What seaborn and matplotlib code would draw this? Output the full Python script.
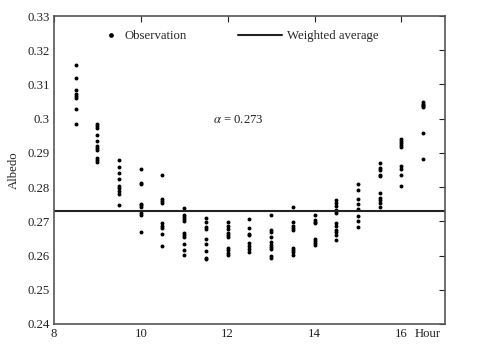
import numpy as np
import pandas as pd
import matplotlib
matplotlib.use("Agg")
import matplotlib.pyplot as plt
from matplotlib.lines import Line2D
from matplotlib.ticker import FuncFormatter
import seaborn as sns

# Observed albedo at each half-hour
hours = [8.5, 9.0, 9.5, 10.0, 10.5, 11.0, 11.5, 12.0, 12.5, 13.0,
         13.5, 14.0, 14.5, 15.0, 15.5, 16.0, 16.5]
albedo_by_hour = [
    [0.3156, 0.3119, 0.3084, 0.3072, 0.3066, 0.3061, 0.3028, 0.2984],
    [0.2984, 0.2979, 0.2974, 0.2952, 0.2935, 0.2919, 0.2913, 0.2909, 0.2885, 0.2879, 0.2872],
    [0.2878, 0.2859, 0.2842, 0.2823, 0.2802, 0.2796, 0.2789, 0.2780, 0.2748],
    [0.2854, 0.2812, 0.2809, 0.2752, 0.2747, 0.2743, 0.2724, 0.2719, 0.2670],
    [0.2834, 0.2764, 0.2759, 0.2754, 0.2694, 0.2687, 0.2681, 0.2664, 0.2629],
    [0.2739, 0.2719, 0.2712, 0.2706, 0.2702, 0.2667, 0.2661, 0.2653, 0.2635, 0.2616, 0.2602],
    [0.2710, 0.2697, 0.2684, 0.2678, 0.2649, 0.2633, 0.2614, 0.2592, 0.2589],
    [0.2697, 0.2686, 0.2678, 0.2666, 0.2659, 0.2653, 0.2623, 0.2615, 0.2608, 0.2602],
    [0.2706, 0.2681, 0.2664, 0.2661, 0.2636, 0.2627, 0.2620, 0.2609],
    [0.2718, 0.2674, 0.2669, 0.2655, 0.2641, 0.2632, 0.2625, 0.2618, 0.2600, 0.2594],
    [0.2742, 0.2699, 0.2685, 0.2680, 0.2676, 0.2622, 0.2616, 0.2609, 0.2601],
    [0.2718, 0.2703, 0.2697, 0.2694, 0.2649, 0.2642, 0.2637, 0.2630],
    [0.2761, 0.2753, 0.2744, 0.2734, 0.2729, 0.2724, 0.2696, 0.2685, 0.2676, 0.2668, 0.2661, 0.2646],
    [0.2808, 0.2793, 0.2766, 0.2752, 0.2737, 0.2715, 0.2700, 0.2683],
    [0.2869, 0.2855, 0.2849, 0.2836, 0.2832, 0.2783, 0.2767, 0.2763, 0.2754, 0.2741],
    [0.2941, 0.2936, 0.2929, 0.2923, 0.2918, 0.2862, 0.2854, 0.2836, 0.2804],
    [0.3048, 0.3044, 0.3041, 0.3037, 0.3033, 0.2957, 0.2883],
]
weighted_average = 0.273

x_ticks = [8, 10, 12, 14, 16]
y_ticks = [0.24, 0.25, 0.26, 0.27, 0.28, 0.29, 0.30, 0.31, 0.32, 0.33]

df = pd.DataFrame(
    [(h, a) for h, vals in zip(hours, albedo_by_hour) for a in vals],
    columns=["Hour", "Albedo"],
)

sns.set_theme(style="white")
plt.rcParams["font.family"] = ["Liberation Serif", "DejaVu Serif"]
plt.rcParams["mathtext.fontset"] = "stix"

fs = 9.2
fig = plt.figure(figsize=(4.81, 3.48), dpi=100)
ax = fig.add_axes([0.112, 0.069, 0.813, 0.885])

sns.scatterplot(data=df, x="Hour", y="Albedo", ax=ax, color="black",
                s=8, linewidth=0, legend=False)
ax.axhline(weighted_average, color="#222222", lw=1.5)

ax.set_xlim(8, 17)
ax.set_ylim(0.24, 0.33)
ax.set_xticks(x_ticks)
ax.set_yticks(y_ticks)
ax.yaxis.set_major_formatter(FuncFormatter(lambda v, p: f"{v:.2f}".rstrip("0")))
ax.tick_params(direction="in", top=True, right=True, length=4, width=0.8,
               labelsize=fs, colors="#222222", pad=3)
for side in ax.spines.values():
    side.set_color("#555555")
    side.set_linewidth(1.2)

ax.set_xlabel("")
ax.set_ylabel("Albedo", fontsize=fs, color="#222222", labelpad=5)
ax.text(16.3, -0.012, "Hour", transform=ax.get_xaxis_transform(),
        ha="left", va="top", fontsize=fs, color="#222222")

ax.text(12.25, 0.2995, r"$\alpha$ = " + f"{weighted_average:.3f}",
        ha="center", va="center", fontsize=fs, color="#222222")

obs_handle = Line2D([], [], ls="none", marker="o", ms=2.4, color="black")
avg_handle = Line2D([], [], color="#222222", lw=1.5)
leg1 = ax.legend([obs_handle], ["Observation"], loc="center left",
                 bbox_to_anchor=(0.115, 0.935), frameon=False, fontsize=fs,
                 handlelength=1.1, handletextpad=0.5, borderaxespad=0)
ax.add_artist(leg1)
ax.legend([avg_handle], ["Weighted average"], loc="center left",
          bbox_to_anchor=(0.458, 0.935), frameon=False, fontsize=fs,
          handlelength=3.4, handletextpad=0.45, borderaxespad=0)

fig.savefig("out.png", dpi=100, facecolor="white")
